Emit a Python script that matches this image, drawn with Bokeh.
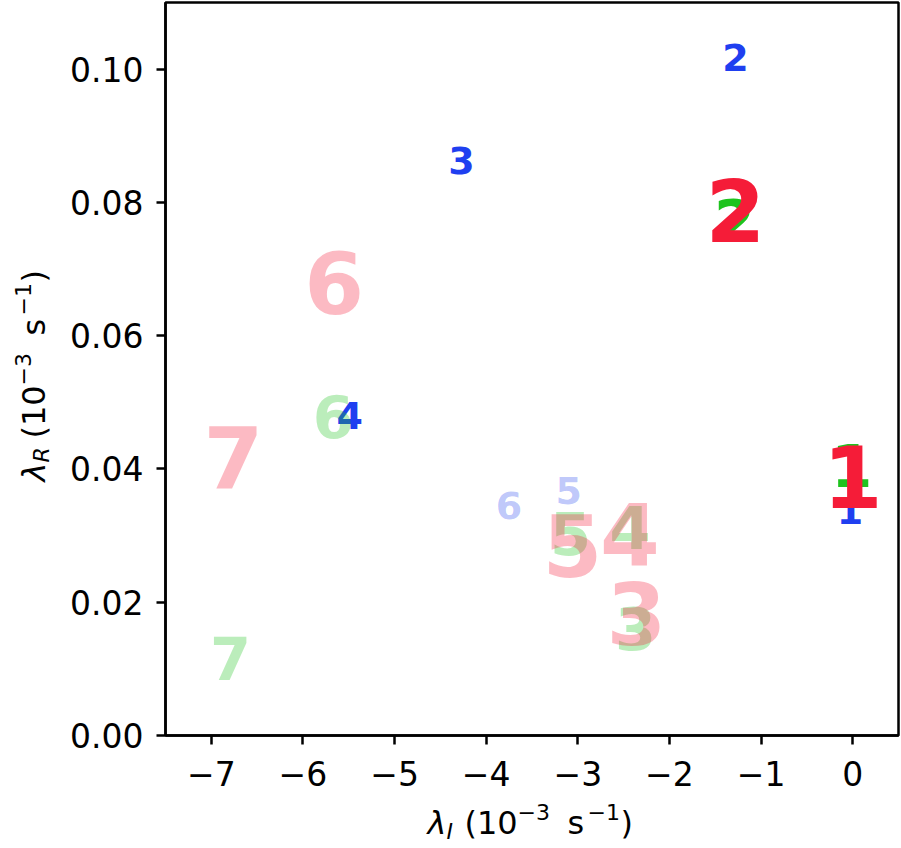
import math
from bokeh.plotting import figure
from bokeh.layouts import gridplot
from bokeh.models import ColumnDataSource, FixedTicker, Range1d
from bokeh.core.properties import value
from bokeh.embed import file_html
from bokeh.resources import INLINE

# ---------------- data ----------------
blue_labels = ["1", "2", "3", "4", "5", "6"]
blue_x = [-0.03, -1.28, -4.27, -5.49, -3.10, -3.75]
blue_y = [0.0338, 0.1018, 0.0863, 0.0480, 0.0368, 0.0345]
blue_alpha = [1.0, 1.0, 1.0, 1.0, 0.3, 0.3]

green_labels = ["1", "2", "3", "4", "5", "6", "7"]
green_x = [-0.01, -1.29, -2.37, -2.43, -3.08, -5.67, -6.79]
green_y = [0.0405, 0.0773, 0.0161, 0.0312, 0.0303, 0.0478, 0.0116]
green_alpha = [1.0, 1.0, 0.3, 0.3, 0.3, 0.3, 0.3]

red_labels = ["1", "2", "3", "4", "5", "6", "7"]
red_x = [0.0, -1.28, -2.36, -2.43, -3.06, -5.66, -6.76]
red_y = [0.0389, 0.0788, 0.0183, 0.0303, 0.0285, 0.0680, 0.0417]
red_alpha = [1.0, 1.0, 0.3, 0.3, 0.3, 0.3, 0.3]

x_ticks = [-7, -6, -5, -4, -3, -2, -1, 0]
x_tick_labels = ["\u22127", "\u22126", "\u22125", "\u22124", "\u22123", "\u22122", "\u22121", "0"]
y_ticks = [0.0, 0.02, 0.04, 0.06, 0.08, 0.10]
y_tick_labels = ["0.00", "0.02", "0.04", "0.06", "0.08", "0.10"]

X0, X1 = -7.5, 0.5
Y0, Y1 = 0.0, 0.11

# ---------------- layout ----------------
TOTAL_W, TOTAL_H = 901, 848
YL_W = 60          # width of the y-label strip
XL_H = 50          # height of the x-label strip
MAIN_W = TOTAL_W - YL_W
MAIN_H = TOTAL_H - XL_H
FRAME_L, FRAME_R, FRAME_T, FRAME_B = 165, 898, 2, 735
BL, BR, BT, BB = FRAME_L - YL_W, TOTAL_W - FRAME_R, FRAME_T, MAIN_H - FRAME_B
FONT = "DejaVu Sans"
BASE_SHIFT = 0.42   # renderer places the glyph this many em below the anchor

xr = Range1d(X0, X1)
yr = Range1d(Y0, Y1)


def page_to_x(px):
    return X0 + (px - FRAME_L) / (FRAME_R - FRAME_L) * (X1 - X0)


def page_to_y(py):
    return Y0 + (FRAME_B - py) / (FRAME_B - FRAME_T) * (Y1 - Y0)


p = figure(width=MAIN_W, height=MAIN_H, output_backend="svg", toolbar_location=None,
           x_range=xr, y_range=yr, min_border_left=BL, min_border_right=BR,
           min_border_top=BT, min_border_bottom=BB, tools="")
p.grid.visible = False
p.background_fill_color = "white"
p.border_fill_color = "white"
p.outline_line_color = "black"
p.outline_line_width = 2.5

for ax in (p.xaxis[0], p.yaxis[0]):
    ax.axis_line_width = 2.5
    ax.axis_line_color = "black"
    ax.major_tick_line_width = 2.5
    ax.major_tick_line_color = "black"
    ax.major_tick_in = 0
    ax.major_tick_out = 9
    ax.minor_tick_line_color = None
    ax.major_label_text_font = FONT
    ax.major_label_text_font_size = "33px"
    ax.major_label_text_color = "black"
    ax.axis_label = None

p.xaxis[0].ticker = FixedTicker(ticks=x_ticks)
p.xaxis[0].major_label_overrides = {float(t): s for t, s in zip(x_ticks, x_tick_labels)}
p.xaxis[0].major_label_standoff = 16
p.yaxis[0].ticker = FixedTicker(ticks=y_ticks)
p.yaxis[0].major_label_overrides = {float(t): s for t, s in zip(y_ticks, y_tick_labels)}
p.yaxis[0].major_label_standoff = 13

series = [
    (blue_x, blue_y, blue_labels, blue_alpha, "#1f3ff0", 38),
    (green_x, green_y, green_labels, green_alpha, "#1ec31e", 59),
    (red_x, red_y, red_labels, red_alpha, "#f51c38", 86),
]
for xs, ys, labs, al, col, size in series:
    src = ColumnDataSource(dict(x=xs, y=ys, t=labs, a=al))
    p.text(x="x", y="y", text="t", source=src, text_font=value(FONT),
           text_font_style="bold", text_font_size=f"{size}px", text_color=col,
           text_alpha="a", text_align="center", text_baseline="middle")


def strip(w, h, x_range, y_range, borders):
    l, r, t, b = borders
    f = figure(width=w, height=h, output_backend="svg", toolbar_location=None,
               x_range=x_range, y_range=y_range, tools="",
               x_axis_type=None, y_axis_type=None,
               min_border_left=l, min_border_right=r,
               min_border_top=t, min_border_bottom=b)
    f.grid.visible = False
    f.outline_line_color = None
    f.background_fill_color = "white"
    f.border_fill_color = "white"
    return f


# ---------------- x-axis label (composed: λ_I (10^-3 s^-1)) ----------------
xl = strip(MAIN_W, XL_H, xr, Range1d(0, XL_H), (BL, BR, 0, 0))
xl_text = ["\u03bb", "I", "(10", "\u22123", "s", "\u22121", ")"]
xl_left = [427, 446, 464, 517, 567, 587, 620]          # page x of each piece
xl_base = [836, 840, 836, 821, 836, 821, 836]          # page y of each baseline
xl_size = [32, 22, 32, 22, 32, 22, 32]
xl_style = ["italic", "italic", "normal", "normal", "normal", "normal", "normal"]
for t, px, py, sz, st in zip(xl_text, xl_left, xl_base, xl_size, xl_style):
    anchor = py - BASE_SHIFT * sz
    xl.text(x=[page_to_x(px)], y=[TOTAL_H - anchor], text=[t], text_font=value(FONT),
            text_font_size=f"{sz}px", text_font_style=st, text_color="black",
            text_align="left", text_baseline="alphabetic")

# ---------------- y-axis label (rotated) ----------------
yl = strip(YL_W, MAIN_H, Range1d(0, YL_W), yr, (0, 0, BT, BB))
yl_text = ["\u03bb", "R", "(10", "\u22123", "s", "\u22121", ")"]
yl_start = [481, 462, 438, 385, 335, 315, 282]          # page y where each piece starts
yl_base = [47, 50, 47, 32, 47, 32, 47]                  # page x of each baseline
yl_size = [32, 22, 32, 22, 32, 22, 32]
yl_style = ["italic", "italic", "normal", "normal", "normal", "normal", "normal"]
for t, py, px, sz, st in zip(yl_text, yl_start, yl_base, yl_size, yl_style):
    anchor = px - BASE_SHIFT * sz
    yl.text(x=[anchor], y=[page_to_y(py)], text=[t], text_font=value(FONT),
            text_font_size=f"{sz}px", text_font_style=st, text_color="black",
            text_align="left", text_baseline="alphabetic", angle=math.pi / 2)

layout = gridplot([[yl, p], [None, xl]], toolbar_location=None)
open("out.html", "w").write(file_html(layout, INLINE))
